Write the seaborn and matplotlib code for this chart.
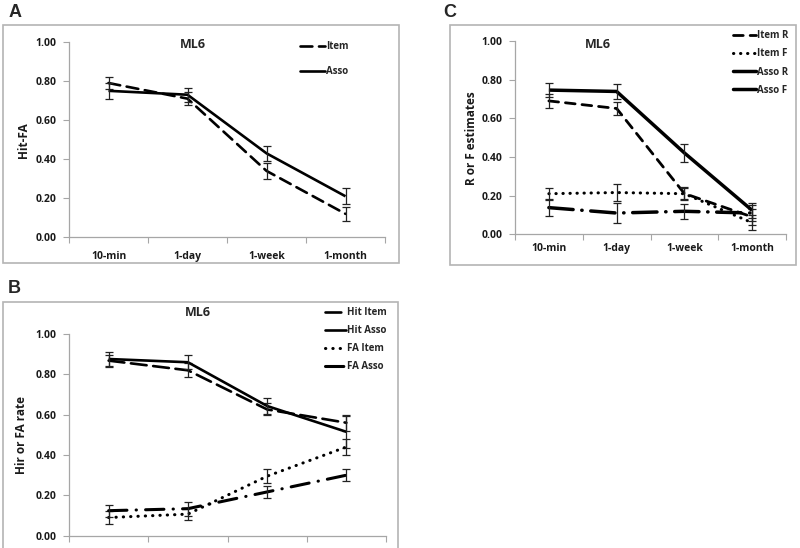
import pandas as pd
import numpy as np
import matplotlib
matplotlib.use("Agg")
import matplotlib.pyplot as plt
from matplotlib.patches import Rectangle
from matplotlib.lines import Line2D
from matplotlib.ticker import FixedLocator
import seaborn as sns

sns.set_style("white")
plt.rcParams['font.family'] = ['Open Sans', 'DejaVu Sans']

# retention intervals (shared x categories)
times = ['10-min', '1-day', '1-week', '1-month']

# panel A: Hit-FA
a_item = [0.79, 0.71, 0.34, 0.12]
a_item_err = [0.03, 0.035, 0.04, 0.035]
a_asso = [0.75, 0.73, 0.43, 0.21]
a_asso_err = [0.04, 0.035, 0.04, 0.04]

# panel B: hit / FA rates
b_hit_item = [0.868, 0.82, 0.626, 0.56]
b_hit_item_err = [0.03, 0.035, 0.03, 0.04]
b_hit_asso = [0.876, 0.86, 0.643, 0.515]
b_hit_asso_err = [0.035, 0.035, 0.04, 0.08]
b_fa_item = [0.09, 0.107, 0.295, 0.44]
b_fa_item_err = [0.03, 0.03, 0.035, 0.04]
b_fa_asso = [0.124, 0.134, 0.217, 0.30]
b_fa_asso_err = [0.03, 0.035, 0.03, 0.03]

# panel C: R / F estimates
c_item_r = [0.69, 0.651, 0.211, 0.09]
c_item_r_err = [0.035, 0.035, 0.03, 0.04]
c_item_f = [0.21, 0.216, 0.21, 0.06]
c_item_f_err = [0.03, 0.045, 0.035, 0.04]
c_asso_r = [0.746, 0.739, 0.421, 0.124]
c_asso_r_err = [0.037, 0.04, 0.045, 0.04]
c_asso_f = [0.138, 0.11, 0.119, 0.11]
c_asso_f_err = [0.045, 0.05, 0.04, 0.04]

W, H = 800, 548
fig = plt.figure(figsize=(8, 5.48), dpi=100)

def px(x, y, w, h):
    # pixel box (top-left origin) -> figure fraction
    return [x / W, 1 - (y + h) / H, w / W, h / H]

GRAY = '#a6a6a6'
TXT = '#1a1a1a'

# panel frames (Excel chart areas)
for (x0, y0, x1, y1) in [(3, 25, 399, 263), (3, 302, 398, 560), (450, 25, 796, 265)]:
    fig.patches.append(Rectangle((x0 / W, 1 - y1 / H), (x1 - x0) / W, (y1 - y0) / H,
                                 transform=fig.transFigure, fill=False,
                                 edgecolor='#b4b4b4', lw=1.2))

for lab, (x, y) in {'A': (9, 4), 'B': (8, 280), 'C': (443, 4)}.items():
    fig.text(x / W, 1 - y / H, lab, fontsize=13, fontweight='bold',
             family='Liberation Sans', va='top', ha='left')


def style_axis(ax, ylabel, label_pad):
    ax.set_xlim(-0.5, 3.5)
    ax.set_ylim(0, 1.0)
    ax.set_yticks(np.arange(0, 1.01, 0.2))
    ax.set_yticklabels(['%.2f' % v for v in np.arange(0, 1.01, 0.2)])
    ax.set_xticks(range(4))
    ax.set_xticklabels(times)
    ax.xaxis.set_minor_locator(FixedLocator([-0.5, 0.5, 1.5, 2.5, 3.5]))
    ax.tick_params(axis='x', which='major', length=0, pad=label_pad,
                   labelsize=7.5, labelcolor=TXT)
    ax.tick_params(axis='x', which='minor', length=4, width=0.8, color=GRAY,
                   direction='out', bottom=True)
    ax.tick_params(axis='y', length=4, width=0.8, color=GRAY, direction='out',
                   left=True, pad=5, labelsize=7.5, labelcolor=TXT)
    for t in ax.get_xticklabels() + ax.get_yticklabels():
        t.set_fontweight('bold')
    for s in ['top', 'right']:
        ax.spines[s].set_visible(False)
    for s in ['left', 'bottom']:
        ax.spines[s].set_color(GRAY)
        ax.spines[s].set_linewidth(0.9)
    ax.set_xlabel('')
    ax.set_ylabel(ylabel, fontsize=8.5, fontweight='bold', color=TXT)
    ax.patch.set_visible(False)


def draw(ax, vals, errs, lw, ls):
    sns.lineplot(x=times, y=vals, ax=ax, color='black', lw=lw, linestyle=ls,
                 sort=False, errorbar=None, dash_capstyle='round',
                 solid_capstyle='butt')
    ax.errorbar(times, vals, yerr=errs, fmt='none', ecolor='#222222',
                elinewidth=0.9, capsize=2.8, capthick=0.9)


def legend(ax, specs, x, y, spacing, hl):
    handles = [Line2D([], [], color='black', lw=lw, linestyle=ls,
                      dash_capstyle='round') for (_, lw, ls) in specs]
    ax.legend(handles, [s[0] for s in specs], loc='upper left',
              bbox_to_anchor=(x / W, 1 - y / H), bbox_transform=fig.transFigure,
              frameon=False, handlelength=hl, handletextpad=0.05,
              labelspacing=spacing, borderpad=0, borderaxespad=0,
              prop={'size': 7, 'weight': 'bold', 'family': 'Open Sans'})


# ---- panel A
axA = fig.add_axes(px(69, 42, 316, 195.3))
dashA = (0, (4.5, 2.5))
draw(axA, a_item, a_item_err, 1.9, dashA)
draw(axA, a_asso, a_asso_err, 1.9, '-')
style_axis(axA, 'Hit-FA', 10)
axA.yaxis.set_label_coords(-0.125, 0.5)
fig.text(193 / W, 1 - 45 / H, 'ML6', fontsize=9, fontweight='bold', ha='center', va='center')
legend(axA, [('Item', 1.9, dashA), ('Asso', 1.9, '-')], 300, 41, 1.45, 2.6)

# ---- panel B
axB = fig.add_axes(px(69, 334, 317, 201.7))
dashB = (0, (6, 2.5))
dotB = (0, (0.1, 2.3))
dashdotB = (0, (6, 3, 0.1, 3))
draw(axB, b_hit_item, b_hit_item_err, 1.9, dashB)
draw(axB, b_hit_asso, b_hit_asso_err, 1.9, '-')
draw(axB, b_fa_item, b_fa_item_err, 2.2, dotB)
draw(axB, b_fa_asso, b_fa_asso_err, 2.2, dashdotB)
style_axis(axB, 'Hir or FA rate', 8.5)
axB.yaxis.set_label_coords(-0.13, 0.5)
fig.text(198 / W, 1 - 313 / H, 'ML6', fontsize=9, fontweight='bold', ha='center', va='center')
legend(axB, [('Hit Item', 1.9, dashB), ('Hit Asso', 1.9, '-'),
             ('FA Item', 2.2, dotB), ('FA Asso', 2.2, (0, (6, 3)))],
       325, 307, 0.72, 2.2)

# ---- panel C
axC = fig.add_axes(px(515, 41, 271, 193.3))
dashC = (0, (3.5, 2.5))
dotC = (0, (0.1, 2.2))
dashdotC = (0, (7, 2.5, 0.1, 2.5))
draw(axC, c_item_r, c_item_r_err, 2.0, dashC)
draw(axC, c_item_f, c_item_f_err, 2.2, dotC)
draw(axC, c_asso_r, c_asso_r_err, 2.5, '-')
draw(axC, c_asso_f, c_asso_f_err, 2.5, dashdotC)
style_axis(axC, 'R or F estimates', 6)
axC.yaxis.set_label_coords(-0.135, 0.5)
fig.text(598 / W, 1 - 44 / H, 'ML6', fontsize=9, fontweight='bold', ha='center', va='center')
legend(axC, [('Item R', 2.0, dashC), ('Item F', 2.2, dotC),
             ('Asso R', 2.5, '-'), ('Asso F', 2.5, '-')],
       733, 30, 0.75, 2.4)

fig.savefig('out.png', dpi=100)
